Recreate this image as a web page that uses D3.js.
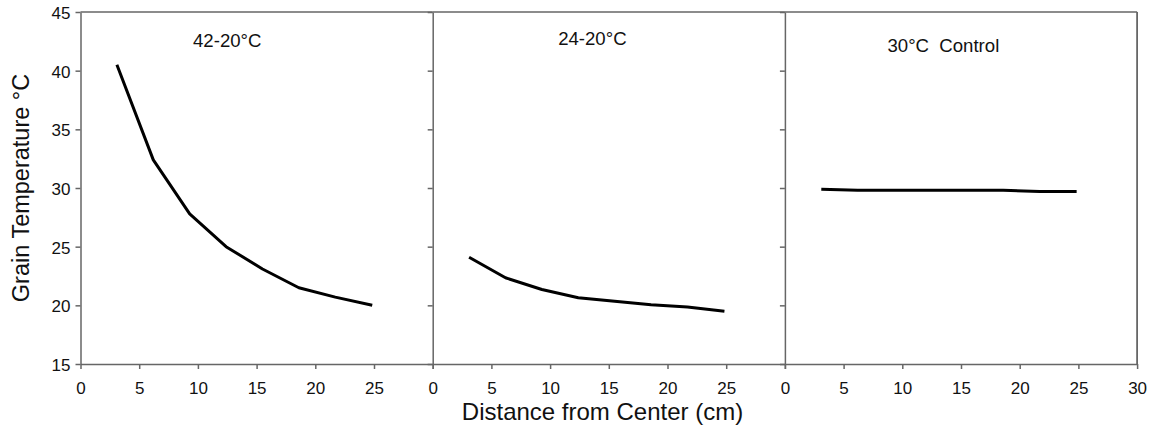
<!DOCTYPE html>
<html>
<head>
<meta charset="utf-8">
<script src="https://cdn.jsdelivr.net/npm/d3@7"></script>
<style>
  html, body { margin: 0; padding: 0; background: #fff; }
  svg { display: block; font-family: "Liberation Sans", Arial, sans-serif; }
</style>
</head>
<body>
<svg id="chart" width="1153" height="432"></svg>
<script>
// ---- data ----
const distances = [3.1, 6.2, 9.3, 12.4, 15.5, 18.6, 21.7, 24.85];
const panelTitles = ["42-20°C", "24-20°C", "30°C  Control"];
const temp42to20 = [40.5, 32.4, 27.8, 25.0, 23.1, 21.5, 20.7, 20.0];
const temp24to20 = [24.1, 22.35, 21.35, 20.65, 20.35, 20.05, 19.85, 19.5];
const temp30control = [29.9, 29.8, 29.8, 29.8, 29.8, 29.8, 29.7, 29.7];
const yTicks = [15, 20, 25, 30, 35, 40, 45];
const xTicksInner = [0, 5, 10, 15, 20, 25];
const xTicksLast = [0, 5, 10, 15, 20, 25, 30];
const yLabel = "Grain Temperature °C";
const xLabel = "Distance from Center (cm)";

const series = [temp42to20, temp24to20, temp30control];

// ---- layout ----
const svg = d3.select("#chart");
const mLeft = 80.5, mTop = 12, mBottom = 364, panelW = 352.2;
const axisColor = "#666";
const titlePos = [{x: 12.5, base: 46.5}, {x: 13.6, base: 45}, {x: 13.5, base: 51.5}];

const y = d3.scaleLinear().domain([15, 45]).range([mBottom, mTop]);

series.forEach((vals, i) => {
  const x0 = mLeft + i * panelW;
  const x = d3.scaleLinear().domain([0, 30]).range([x0, x0 + panelW]);
  const g = svg.append("g");

  // left axis
  const ya = d3.axisLeft(y).tickValues(yTicks).tickSize(5).tickSizeOuter(0)
    .tickFormat(i === 0 ? d3.format("d") : () => "");
  const yg = g.append("g").attr("transform", `translate(${x0},0)`).call(ya);
  yg.selectAll("text").style("font-size", "17px").attr("fill", "#111")
    .attr("x", -10).attr("dy", "0.38em");

  // bottom axis
  const last = i === series.length - 1;
  const xa = d3.axisBottom(x).tickValues(last ? xTicksLast : xTicksInner.concat([30]))
    .tickSize(5).tickSizeOuter(0)
    .tickFormat(d => (!last && d === 30) ? "" : d3.format("d")(d));
  const xg = g.append("g").attr("transform", `translate(0,${mBottom})`).call(xa);
  xg.selectAll("text").style("font-size", "17px").attr("fill", "#111")
    .attr("y", 29.5).attr("dy", 0);

  [yg, xg].forEach(a => {
    a.attr("font-family", null);
    a.selectAll("path, line").attr("stroke", axisColor).attr("stroke-width", 1.5);
  });

  // top border
  g.append("line").attr("x1", x0).attr("x2", x0 + panelW)
    .attr("y1", mTop).attr("y2", mTop)
    .attr("stroke", axisColor).attr("stroke-width", 1.5);
  if (last) {
    g.append("line").attr("x1", x0 + panelW).attr("x2", x0 + panelW)
      .attr("y1", mTop).attr("y2", mBottom)
      .attr("stroke", axisColor).attr("stroke-width", 1.8);
  }

  // panel title
  g.append("text").attr("x", x(titlePos[i].x)).attr("y", titlePos[i].base)
    .attr("text-anchor", "middle").style("font-size", "18.6px").attr("fill", "#111")
    .style("white-space", "pre").text(panelTitles[i]);

  // data line
  const line = d3.line().x((d, k) => x(distances[k])).y(d => y(d));
  g.append("path").datum(vals).attr("d", line)
    .attr("fill", "none").attr("stroke", "#000").attr("stroke-width", 3)
    .attr("stroke-linejoin", "round");
});

// axis titles
svg.append("text").attr("transform", `translate(29,${(mTop + mBottom) / 2}) rotate(-90)`)
  .attr("text-anchor", "middle").style("font-size", "23.5px").attr("fill", "#111").text(yLabel);
svg.append("text").attr("x", 602.5).attr("y", 420)
  .attr("text-anchor", "middle").style("font-size", "24px").attr("fill", "#111").text(xLabel);
</script>
</body>
</html>
